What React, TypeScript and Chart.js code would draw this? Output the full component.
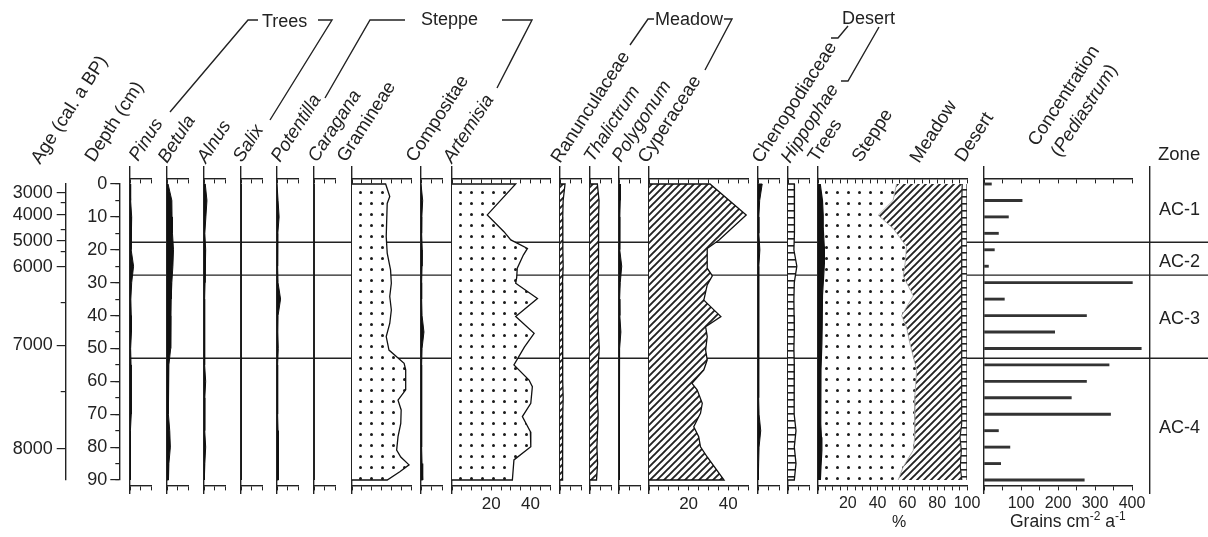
import React, { useEffect, useRef } from 'react';
import { Chart, registerables } from 'chart.js';

Chart.register(...registerables);

// ------------------------------------------------------------------ data
const DEPTHS = [0, 5, 10, 15, 20, 25, 30, 35, 40, 45, 50, 55, 60, 65, 70, 75, 80, 85, 90];

const PINUS = [0.3, 0.3, 0.8, 0.6, 0.5, 1.7, 0.8, 0.4, 0.6, 0.7, 0.3, 0.5, 0.6, 0.6, 0.6, 0.2, 0.2, 0.2, 0.2];
const BETULA = [0.5, 2.3, 2.4, 2.6, 3.1, 2.8, 2.3, 2.0, 1.9, 1.9, 1.6, 0.9, 0.6, 0.6, 0.8, 1.3, 1.6, 0.9, 0.7];
const ALNUS = [0.6, 1.4, 0.9, 0.4, 0.8, 0.5, 0.5, 0.3, 0.3, 0.3, 0.3, 0.3, 0.8, 0.4, 0.3, 0.4, 0.8, 0.4, 0.3];
const SALIX = [0, 0, 0, 0.4, 0, 0, 0, 0, 0.4, 0, 0, 0, 0, 0, 0, 0, 0, 0, 0];
const POTENTILLA = [0.2, 0.5, 1.0, 0.4, 0.3, 0.3, 0.5, 1.7, 0.5, 0.4, 0.6, 0.3, 0.3, 0.3, 0.3, 0.5, 0.8, 0.7, 0.5];
const CARAGANA = [0, 0, 0, 0, 0, 0, 0, 0, 0, 0, 0, 0, 0, 0, 0, 0, 0, 0, 0];
const COMPOSITAE = [0.3, 0.8, 0.4, 0.3, 0.6, 0.5, 0.3, 0.3, 0.5, 1.4, 0.5, 0.3, 0.3, 0.3, 0.3, 0.3, 0.3, 0.5, 0.8];
const RANUNCULACEAE = [2.4, 1.5, 1.3, 1.4, 1.3, 1.5, 1.2, 1.4, 1.3, 1.2, 1.4, 1.1, 1.3, 1.5, 1.3, 1.2, 1.4, 1.2, 1.1];
const THALICTRUM = [3.5, 4.3, 4.1, 4.2, 3.9, 4.1, 3.8, 4.0, 3.7, 4.0, 4.4, 3.9, 3.8, 3.5, 3.9, 3.6, 3.3, 3.6, 3.1];
const POLYGONUM = [0.5, 0.6, 0.4, 0.3, 0.4, 1.3, 0.6, 0.3, 0.4, 0.9, 0.3, 0.2, 0.2, 0.2, 0.2, 0.2, 0.2, 0.2, 0.2];
const CHENOPODIACEAE = [2.0, 0.8, 0.4, 0.4, 0.9, 0.4, 0.3, 0.3, 0.3, 0.3, 0.3, 0.3, 0.3, 0.4, 0.5, 1.3, 0.5, 0.3, 0.3];
const HIPPOPHAE = [3.0, 3.0, 3.2, 3.0, 2.8, 4.2, 3.0, 2.8, 2.9, 3.0, 2.8, 3.0, 2.9, 3.0, 2.9, 3.8, 3.0, 3.8, 3.0];

const GRAM_DEPTHS = [0, 3.8, 5.9, 16, 21, 26.1, 30.2, 34.2, 38.3, 42.4, 46.4, 50.5, 54.5, 56.5, 62.6, 65.7, 68.7, 72.8, 76.8, 80.9, 83, 85.4, 87.5, 90];
const GRAMINEAE = [17.1, 19.2, 17.9, 17.4, 17.9, 19.6, 20, 19.2, 20, 19.2, 17.4, 18.8, 26.5, 27.3, 27.3, 23.4, 25, 24.8, 23.4, 22.7, 24.8, 29, 24.3, 17.9];

const ART_DEPTHS = [0, 9.4, 14.5, 17, 19.6, 21.6, 25.6, 28.5, 30.2, 34.8, 40.3, 45.4, 49.5, 55, 59.6, 61.6, 66.7, 70.7, 75.3, 79.9, 83.9, 90];
const ARTEMISIA = [32.5, 18, 26.5, 30, 38.5, 36.4, 33.3, 33, 32.5, 43.6, 32.5, 41.9, 37, 31.6, 39.3, 41, 40.2, 35.9, 40, 40.2, 31.6, 30.8];

const CYP_DEPTHS = [0, 9.4, 17, 19.6, 25.6, 27.9, 30.7, 35.3, 40.3, 43.4, 46.4, 50.5, 53.5, 56.5, 60.6, 62.6, 66.7, 69.7, 73.8, 76.8, 79.9, 83, 90];
const CYPERACEAE = [30.8, 49.1, 35.4, 29.4, 29.4, 32, 29.4, 27.7, 36.3, 28.6, 29.4, 28.6, 29.4, 27.7, 21.7, 24.3, 26.9, 26, 22.6, 25.1, 26, 29.4, 37.9];

const SUM_DEPTHS = [0, 5, 9.5, 13.5, 19, 24, 28, 34, 40, 43.5, 48.5, 56.5, 64.5, 73, 77, 81, 86, 90];
const SUM_TREES = [1.5, 3.0, 3.5, 3.5, 4.2, 4.3, 3.8, 3.0, 2.8, 2.8, 2.6, 2.0, 1.7, 2.0, 2.3, 2.6, 2.0, 1.6];
const SUM_STEPPE = [51.2, 47.4, 36.9, 46.9, 55.2, 54.2, 53.4, 60.9, 53.3, 56.6, 59.1, 64.2, 63.3, 63.0, 62.5, 61.3, 55.2, 52.2];
const SUM_MEADOW = [44.1, 46.1, 56.1, 46.2, 36.9, 37.5, 39.3, 32.6, 40.5, 37.1, 34.7, 30.3, 31.6, 31.0, 30.5, 32.3, 38.3, 42.7];
const SUM_DESERT = [3.2, 3.5, 3.5, 3.4, 3.7, 4.0, 3.5, 3.5, 3.4, 3.5, 3.6, 3.5, 3.4, 4.0, 4.7, 3.8, 4.5, 3.5];

const CONCENTRATION = [20, 103, 66, 39, 28, 12, 401, 55, 277, 191, 425, 338, 277, 236, 342, 39, 70, 45, 271];

const AGE_LABELS = [3000, 4000, 5000, 6000, 7000, 8000];
const AGE_LABEL_DEPTHS = [2.6, 9.4, 17.2, 25.2, 49.0, 80.6];
const AGE_MINOR_DEPTHS = [5.8, 14.0, 20.7, 36.1, 63.2];

const ZONE_BOUNDS = [17.7, 27.7, 53];
const ZONE_NAMES = ['AC-1', 'AC-2', 'AC-3', 'AC-4'];
const ZONE_LABEL_DEPTHS = [7.9, 23.7, 41.0, 74.2];

// ------------------------------------------------------------------ layout / style
const W = 1208;
const H = 537;
const Y0 = 184; // pixel row of depth 0
const K = 3.289; // pixels per cm
const PANEL_TOP = -5.2;
const PANEL_BOTTOM = 94.2;
const AXIS_TOP = -1.6;
const AXIS_BOTTOM = 91.8;
const PAD = 30;
const INK = '#222';
const FONT = "'Liberation Sans', Arial, Helvetica, sans-serif";
const ROT = -57;

type Fill = 'black' | 'dots' | 'hatch' | 'boxes';
type Series = { depths: number[]; values: number[]; fill: Fill };
type Panel = {
  key: string;
  left: number;
  right: number;
  max: number;
  step: number;
  labels: number[];
  font: number;
  kind: 'area' | 'stack' | 'bars';
  series: Series[];
};

const small = (key: string, left: number, values: number[], fill: Fill): Panel => ({
  key, left, right: left + 20.5, max: 10, step: 5, labels: [], font: 16, kind: 'area',
  series: [{ depths: DEPTHS, values, fill }],
});

const PANELS: Panel[] = [
  small('pinus', 130, PINUS, 'black'),
  small('betula', 167, BETULA, 'black'),
  small('alnus', 204, ALNUS, 'black'),
  small('salix', 241, SALIX, 'black'),
  small('potentilla', 277.3, POTENTILLA, 'black'),
  small('caragana', 314, CARAGANA, 'black'),
  { key: 'gram', left: 351.7, right: 410.7, max: 30, step: 5, labels: [], font: 16, kind: 'area', series: [{ depths: GRAM_DEPTHS, values: GRAMINEAE, fill: 'dots' }] },
  small('compositae', 420.7, COMPOSITAE, 'black'),
  { key: 'art', left: 451.7, right: 549.3, max: 50, step: 5, labels: [20, 40], font: 17, kind: 'area', series: [{ depths: ART_DEPTHS, values: ARTEMISIA, fill: 'dots' }] },
  small('ranun', 560, RANUNCULACEAE, 'hatch'),
  small('thal', 590, THALICTRUM, 'hatch'),
  small('poly', 619.3, POLYGONUM, 'black'),
  { key: 'cyp', left: 649.3, right: 747.8, max: 50, step: 5, labels: [20, 40], font: 17, kind: 'area', series: [{ depths: CYP_DEPTHS, values: CYPERACEAE, fill: 'hatch' }] },
  small('cheno', 758.3, CHENOPODIACEAE, 'black'),
  small('hippo', 788.3, HIPPOPHAE, 'boxes'),
  {
    key: 'sum', left: 818.3, right: 967, max: 100, step: 5, labels: [20, 40, 60, 80, 100], font: 16, kind: 'stack',
    series: [
      { depths: SUM_DEPTHS, values: SUM_TREES, fill: 'black' },
      { depths: SUM_DEPTHS, values: SUM_STEPPE, fill: 'dots' },
      { depths: SUM_DEPTHS, values: SUM_MEADOW, fill: 'hatch' },
      { depths: SUM_DEPTHS, values: SUM_DESERT, fill: 'boxes' },
    ],
  },
  { key: 'conc', left: 984, right: 1132, max: 400, step: 50, labels: [100, 200, 300, 400], font: 16, kind: 'bars', series: [{ depths: DEPTHS, values: CONCENTRATION, fill: 'black' }] },
];

const HEADERS: { t: string; x: number; y: number; it?: boolean }[] = [
  { t: 'Age (cal. a BP)', x: 40, y: 165 },
  { t: 'Depth (cm)', x: 94, y: 163 },
  { t: 'Pinus', x: 138, y: 162, it: true },
  { t: 'Betula', x: 167, y: 164, it: true },
  { t: 'Alnus', x: 206, y: 164, it: true },
  { t: 'Salix', x: 242, y: 163, it: true },
  { t: 'Potentilla', x: 280, y: 163, it: true },
  { t: 'Caragana', x: 317, y: 163, it: true },
  { t: 'Gramineae', x: 346, y: 163 },
  { t: 'Compositae', x: 415, y: 163 },
  { t: 'Artemisia', x: 452, y: 164, it: true },
  { t: 'Ranunculaceae', x: 560, y: 164 },
  { t: 'Thalictrum', x: 593, y: 163, it: true },
  { t: 'Polygonum', x: 621, y: 163, it: true },
  { t: 'Cyperaceae', x: 647, y: 164 },
  { t: 'Chenopodiaceae', x: 761, y: 164 },
  { t: 'Hippophae', x: 790, y: 164, it: true },
  { t: 'Trees', x: 817, y: 163 },
  { t: 'Steppe', x: 861, y: 163 },
  { t: 'Meadow', x: 919, y: 164 },
  { t: 'Desert', x: 964, y: 163 },
];

const GROUPS = [
  { t: 'Trees', x: 262, y: 27 },
  { t: 'Steppe', x: 421, y: 25 },
  { t: 'Meadow', x: 655, y: 25 },
  { t: 'Desert', x: 842, y: 24 },
];

const BRACKETS: number[][][] = [
  [[170, 112], [248, 20], [258, 20]],
  [[318, 20], [332, 20], [270, 120]],
  [[325, 98], [370, 20], [405, 20]],
  [[502, 20], [532, 20], [497, 88]],
  [[630, 45], [648, 19], [654, 19]],
  [[724, 19], [732, 19], [705, 70]],
  [[831, 38], [838, 38], [848, 26]],
  [[841, 81], [848, 81], [879, 27]],
];

// ------------------------------------------------------------------ helpers
type Pats = Record<Fill, any>;

function makePatterns(): Pats {
  const mk = (w: number, h: number, draw: (c: CanvasRenderingContext2D) => void) => {
    const cv = document.createElement('canvas');
    cv.width = w;
    cv.height = h;
    const c = cv.getContext('2d') as CanvasRenderingContext2D;
    c.fillStyle = '#fff';
    c.fillRect(0, 0, w, h);
    draw(c);
    return c.createPattern(cv, 'repeat');
  };
  return {
    black: '#111',
    dots: mk(11, 11, (c) => {
      c.fillStyle = '#1a1a1a';
      c.beginPath();
      c.arc(5.5, 5.5, 1.5, 0, Math.PI * 2);
      c.fill();
    }),
    hatch: mk(7, 7, (c) => {
      c.strokeStyle = '#222';
      c.lineWidth = 1.9;
      c.beginPath();
      c.moveTo(-1, 8); c.lineTo(8, -1);
      c.moveTo(-1, 1); c.lineTo(1, -1);
      c.moveTo(6, 8); c.lineTo(8, 6);
      c.stroke();
    }),
    boxes: mk(8, 7, (c) => {
      c.fillStyle = '#222';
      c.fillRect(0, 0, 8, 1.6);
    }),
  };
}

function baseOpts(padLeft: number, padRight: number, ymin: number, ymax: number) {
  return {
    animation: false,
    responsive: false,
    maintainAspectRatio: false,
    devicePixelRatio: 1,
    events: [],
    layout: { padding: { left: padLeft, right: padRight, top: Y0 + ymin * K, bottom: H - (Y0 + ymax * K) } },
    plugins: { legend: { display: false }, tooltip: { enabled: false }, title: { display: false } },
  };
}

const zeroWidth = (s: any) => { s.width = 0; };
const LABEL_BOX = 56;
const labelWidth = (s: any) => { s.width = LABEL_BOX; };

function panelConfig(p: Panel, pats: Pats) {
  let datasets: any[] = [];
  if (p.kind === 'area') {
    datasets = p.series.map((s) => {
      const pts = s.depths.map((d, i) => ({ x: s.values[i], y: d }));
      const data = [{ x: 0, y: s.depths[0] }, ...pts, { x: 0, y: s.depths[s.depths.length - 1] }];
      return {
        data, xAxisID: 'x', yAxisID: 'y', fill: 'origin',
        backgroundColor: pats[s.fill], borderColor: '#111',
        borderWidth: s.fill === 'black' ? 1 : 1.3, pointRadius: 0, tension: 0,
      };
    });
  } else if (p.kind === 'stack') {
    let acc = p.series[0].depths.map(() => 0);
    const borders = ['#111', '#9a9a9a', '#222', '#222'];
    datasets = p.series.map((s, k) => {
      acc = acc.map((a, i) => a + s.values[i]);
      return {
        data: acc.map((v, i) => ({ x: v, y: s.depths[i] })), xAxisID: 'x', yAxisID: 'y',
        fill: k === 0 ? 'origin' : '-1', backgroundColor: pats[s.fill],
        borderColor: borders[k], borderWidth: k === 1 ? 0.8 : 1.2, pointRadius: 0, tension: 0,
      };
    });
  } else {
    const s = p.series[0];
    datasets = [{
      data: s.depths.map((d, i) => ({ x: s.values[i], y: d })), xAxisID: 'x', yAxisID: 'y',
      backgroundColor: '#333', borderWidth: 0, barThickness: 2.2, clip: false,
    }];
  }
  const xCommon = {
    type: 'linear', axis: 'x', min: 0, max: p.max,
    grid: { drawOnChartArea: false, color: INK, lineWidth: 1, tickLength: 4 },
    border: { display: true, color: INK, width: 1.4 },
  };
  return {
    type: p.kind === 'bars' ? 'bar' : 'line',
    data: { datasets },
    options: {
      ...baseOpts(PAD, PAD, PANEL_TOP, PANEL_BOTTOM),
      indexAxis: 'y',
      scales: {
        x: {
          ...xCommon,
          position: { y: AXIS_BOTTOM },
          ticks: {
            stepSize: p.step, autoSkip: false, maxRotation: 0, minRotation: 0, padding: 4,
            color: INK, font: { size: p.font },
            callback: (v: any) => (p.labels.includes(Number(v)) ? String(v) : ''),
          },
        },
        xTop: {
          ...xCommon,
          position: { y: AXIS_TOP },
          ticks: { stepSize: p.step, autoSkip: false, display: false },
        },
        y: {
          type: 'linear', min: PANEL_TOP, max: PANEL_BOTTOM, reverse: true, offset: false,
          position: 'left',
          ticks: { display: false },
          grid: { display: true, drawOnChartArea: false, drawTicks: false, offset: false },
          border: { display: true, color: INK, width: 1.4 },
          afterFit: zeroWidth,
        },
      },
    },
  };
}

function zoneLinesConfig() {
  return {
    type: 'scatter',
    data: {
      datasets: ZONE_BOUNDS.map((b) => ({
        data: [{ x: 0, y: b }, { x: 1, y: b }], showLine: true,
        borderColor: INK, borderWidth: 1.4, pointRadius: 0,
      })),
    },
    options: {
      ...baseOpts(130, 0, PANEL_TOP, PANEL_BOTTOM),
      scales: {
        x: { type: 'linear', min: 0, max: 1, display: false },
        y: { type: 'linear', min: PANEL_TOP, max: PANEL_BOTTOM, reverse: true, display: false },
      },
    },
  };
}

function zoneColumnConfig() {
  return {
    type: 'line',
    data: { datasets: [] },
    options: {
      ...baseOpts(10, 0, PANEL_TOP, PANEL_BOTTOM),
      scales: {
        x: { type: 'linear', min: 0, max: 1, display: false },
        y: {
          type: 'linear', min: PANEL_TOP, max: PANEL_BOTTOM, reverse: true, position: 'left',
          afterBuildTicks: (s: any) => { s.ticks = ZONE_LABEL_DEPTHS.map((v) => ({ value: v })); },
          ticks: {
            mirror: true, padding: 9, color: INK, font: { size: 18 },
            callback: (_v: any, i: number) => ZONE_NAMES[i],
          },
          grid: { drawOnChartArea: false, drawTicks: false },
          border: { display: true, color: INK, width: 1.4 },
          afterFit: zeroWidth,
        },
      },
    },
  };
}

// vertical axis whose labelled ticks sit in a box of LABEL_BOX px left of axisX
function depthAxisConfig(axisX: number) {
  return {
    type: 'line',
    data: { datasets: [] },
    options: {
      ...baseOpts(axisX - LABEL_BOX, 3, 0, 90),
      scales: {
        x: { type: 'linear', min: 0, max: 1, display: false },
        y: {
          type: 'linear', min: 0, max: 90, reverse: true, position: 'left', weight: 1,
          ticks: { stepSize: 10, padding: 3, color: INK, font: { size: 18 } },
          grid: { drawOnChartArea: false, tickLength: 9, color: INK, lineWidth: 1.2 },
          border: { display: true, color: INK, width: 1.4 },
          afterFit: labelWidth,
        },
        yMinor: {
          axis: 'y', type: 'linear', min: 0, max: 90, reverse: true, position: 'left', weight: 0,
          ticks: { stepSize: 5, display: false },
          grid: { drawOnChartArea: false, tickLength: 4, color: INK, lineWidth: 1.2 },
          border: { display: false },
          afterFit: zeroWidth,
        },
      },
    },
  };
}

function ageAxisConfig(axisX: number) {
  return {
    type: 'line',
    data: { datasets: [] },
    options: {
      ...baseOpts(axisX - LABEL_BOX, 3, 0, 90),
      scales: {
        x: { type: 'linear', min: 0, max: 1, display: false },
        y: {
          type: 'linear', min: 0, max: 90, reverse: true, position: 'left', weight: 1,
          afterBuildTicks: (s: any) => { s.ticks = AGE_LABEL_DEPTHS.map((v) => ({ value: v })); },
          ticks: {
            padding: 4, color: INK, font: { size: 18 },
            callback: (_v: any, i: number) => String(AGE_LABELS[i]),
          },
          grid: { drawOnChartArea: false, tickLength: 9, color: INK, lineWidth: 1.2 },
          border: { display: true, color: INK, width: 1.4 },
          afterFit: labelWidth,
        },
        yMinor: {
          axis: 'y', type: 'linear', min: 0, max: 90, reverse: true, position: 'left', weight: 0,
          afterBuildTicks: (s: any) => { s.ticks = AGE_MINOR_DEPTHS.map((v) => ({ value: v })); },
          ticks: { display: false },
          grid: { drawOnChartArea: false, tickLength: 5, color: INK, lineWidth: 1.2 },
          border: { display: false },
          afterFit: zeroWidth,
        },
      },
    },
  };
}

type Spec = { key: string; left: number; width: number; build: (p: Pats) => any };

const AGE_X = 65.7;
const DEPTH_X = 119.3;

const SPECS: Spec[] = [
  { key: 'zones', left: 0, width: W, build: () => zoneLinesConfig() },
  { key: 'age', left: 0, width: 72, build: () => ageAxisConfig(AGE_X) },
  { key: 'depth', left: 0, width: 125, build: () => depthAxisConfig(DEPTH_X) },
  ...PANELS.map((p) => ({
    key: p.key, left: p.left - PAD, width: p.right - p.left + 2 * PAD,
    build: (pats: Pats) => panelConfig(p, pats),
  })),
  { key: 'zonecol', left: 1140, width: 68, build: () => zoneColumnConfig() },
];

export default function App() {
  const refs = useRef<(HTMLCanvasElement | null)[]>([]);

  useEffect(() => {
    Chart.defaults.font.family = FONT;
    Chart.defaults.color = INK;
    const pats = makePatterns();
    const charts = SPECS.map((s, i) => new Chart(refs.current[i] as HTMLCanvasElement, s.build(pats) as any));
    return () => charts.forEach((c) => c.destroy());
  }, []);

  return (
    <div style={{ position: 'absolute', left: 0, top: 0, width: W, height: H, background: '#fff', overflow: 'hidden' }}>
      {SPECS.map((s, i) => (
        <canvas
          key={s.key}
          ref={(el) => { refs.current[i] = el; }}
          width={Math.round(s.width)}
          height={H}
          style={{ position: 'absolute', left: s.left, top: 0, width: Math.round(s.width), height: H }}
        />
      ))}
      <svg width={W} height={H} style={{ position: 'absolute', left: 0, top: 0, pointerEvents: 'none' }} fontFamily={FONT}>
        {HEADERS.map((h) => (
          <text key={h.t + h.x} transform={`translate(${h.x},${h.y}) rotate(${ROT})`} fontSize={18.5} fill={INK} fontStyle={h.it ? 'italic' : 'normal'}>
            {h.t}
          </text>
        ))}
        <text transform={`translate(1037,147) rotate(${ROT})`} fontSize={18.5} fill={INK}>Concentration</text>
        <text transform={`translate(1060,158) rotate(${ROT})`} fontSize={18.5} fill={INK}>
          (<tspan fontStyle="italic">Pediastrum</tspan>)
        </text>
        {GROUPS.map((g) => (
          <text key={'g' + g.t} x={g.x} y={g.y} fontSize={18} fill={INK}>{g.t}</text>
        ))}
        {BRACKETS.map((b, i) => (
          <polyline key={'b' + i} points={b.map((pt) => pt.join(',')).join(' ')} fill="none" stroke={INK} strokeWidth={1.4} />
        ))}
        <text x={1158} y={160} fontSize={18.5} fill={INK}>Zone</text>
        <text x={899} y={527} textAnchor="middle" fontSize={16} fill={INK}>%</text>
        <text x={1010} y={527} fontSize={17.5} fill={INK}>
          Grains cm<tspan dy={-7} fontSize={12}>-2</tspan><tspan dy={7}> a</tspan><tspan dy={-7} fontSize={12}>-1</tspan>
        </text>
      </svg>
    </div>
  );
}
